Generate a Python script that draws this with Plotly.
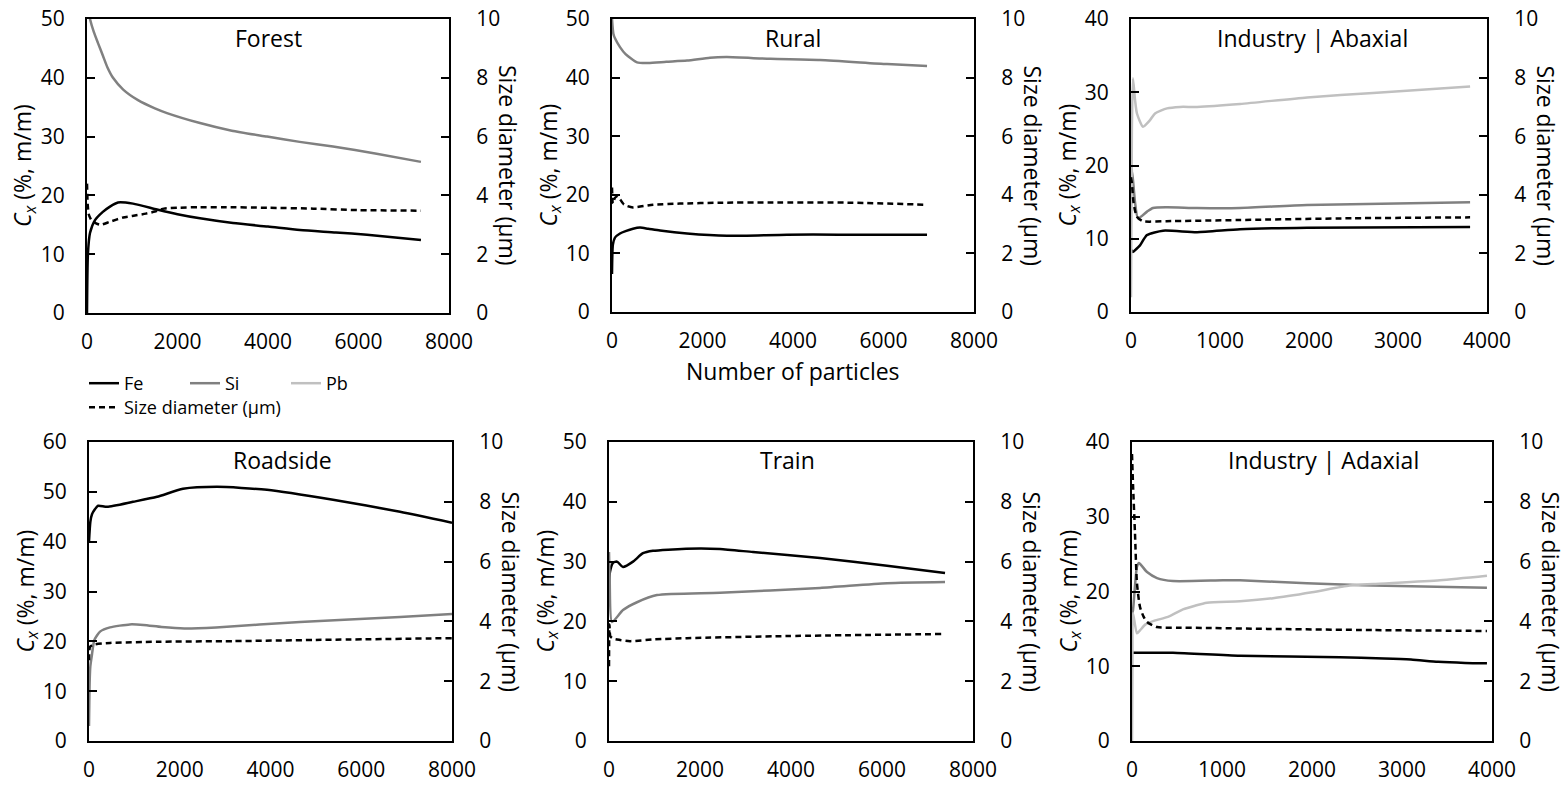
import plotly.graph_objects as go

W, H = 1567, 787

# ---------------- data ----------------
# Forest
forest_fe_n = [0, 20, 66, 177, 350, 508, 685, 1017, 1547, 2000, 2497, 3227, 4000, 4707, 5500, 6188, 7380]
forest_fe = [0, 10, 13.6, 15.8, 17.2, 18.1, 18.8, 18.6, 17.6, 16.8, 16.1, 15.3, 14.7, 14.1, 13.7, 13.3, 12.4]
forest_si_n = [20, 66, 150, 243, 350, 450, 575, 800, 1127, 1500, 1768, 2497, 3200, 3978, 4700, 5437, 6400, 7380]
forest_si = [52, 50, 47.8, 45.9, 43.8, 41.8, 40.0, 38.0, 36.2, 34.8, 34.0, 32.3, 31.0, 30.0, 29.1, 28.3, 27.1, 25.7]
forest_sd_n = [0, 15, 40, 100, 200, 300, 500, 800, 1000, 1300, 1500, 1700, 2000, 2500, 3000, 4000, 5000, 6000, 7380]
forest_sd = [4.4, 3.7, 3.35, 3.15, 3.05, 3.0, 3.1, 3.25, 3.3, 3.38, 3.45, 3.55, 3.58, 3.6, 3.6, 3.58, 3.55, 3.5, 3.48]

# Rural
rural_fe_n = [0, 20, 66, 177, 300, 464, 619, 800, 1061, 1658, 2541, 3868, 5000, 6962]
rural_fe = [6.5, 11.5, 12.7, 13.4, 13.8, 14.2, 14.4, 14.2, 13.9, 13.4, 13.0, 13.2, 13.2, 13.2]
rural_si_n = [0, 30, 66, 177, 300, 553, 800, 1200, 1658, 2166, 2541, 3500, 4597, 6078, 6962]
rural_si = [50, 47.5, 46.7, 45.2, 44.0, 42.6, 42.5, 42.7, 42.9, 43.4, 43.5, 43.2, 43.0, 42.3, 42.0]
rural_sd_n = [0, 20, 66, 130, 177, 260, 332, 464, 906, 1500, 2387, 3500, 5326, 6962]
rural_sd = [4.25, 3.7, 3.9, 3.95, 3.85, 3.68, 3.62, 3.57, 3.66, 3.7, 3.73, 3.74, 3.73, 3.66]

# Industry | Abaxial
abax_fe_n = [0, 22, 60, 101, 180, 360, 742, 1225, 1978, 3810]
abax_fe = [8.5, 8.2, 8.6, 9.1, 10.5, 11.1, 10.9, 11.3, 11.5, 11.6]
abax_si_n = [0, 11, 45, 79, 180, 247, 405, 742, 1225, 1978, 3810]
abax_si = [15, 19.4, 15, 12.8, 13.7, 14.2, 14.3, 14.2, 14.2, 14.6, 15.0]
abax_pb_n = [0, 10, 22, 45, 67, 135, 214, 270, 405, 551, 742, 1225, 1978, 2720, 3810]
abax_pb = [2, 25, 31.9, 29, 27.1, 25.3, 26.2, 27.1, 27.8, 28.0, 28.0, 28.4, 29.3, 29.9, 30.8]
abax_sd_n = [0, 10, 30, 67, 135, 400, 1225, 2500, 3810]
abax_sd = [4.6, 4.4, 3.7, 3.25, 3.1, 3.1, 3.14, 3.2, 3.23]

# Roadside
road_fe_n = [0, 30, 66, 130, 200, 400, 970, 1499, 2072, 2821, 3923, 5378, 6855, 8000]
road_fe = [40, 44, 45.5, 46.5, 47.2, 47.0, 48.0, 49.0, 50.6, 51.0, 50.4, 48.4, 46.0, 43.8]
road_si_n = [0, 15, 30, 60, 120, 250, 463, 900, 1200, 1600, 2100, 2800, 4650, 6855, 8000]
road_si = [3, 12, 15, 17, 20.3, 22.0, 22.8, 23.4, 23.3, 22.9, 22.6, 22.8, 23.9, 24.9, 25.5]
road_sd_n = [0, 22, 100, 463, 1500, 3174, 5000, 8000]
road_sd = [2.7, 3.15, 3.22, 3.28, 3.32, 3.34, 3.38, 3.44]

# Train
train_fe_n = [0, 22, 88, 176, 308, 528, 747, 967, 1300, 2000, 2440, 3165, 4638, 6110, 7385]
train_fe = [26, 28.3, 29.8, 30.0, 29.1, 30.0, 31.4, 31.8, 32.0, 32.2, 32.1, 31.6, 30.6, 29.3, 28.1]
train_si_n = [0, 15, 66, 308, 615, 1055, 2440, 4638, 6110, 7385]
train_si = [31.6, 27, 19.9, 21.9, 23.2, 24.4, 24.8, 25.6, 26.4, 26.6]
train_sd_n = [0, 10, 30, 100, 242, 462, 1000, 1714, 3912, 7385]
train_sd = [2.5, 3.9, 3.5, 3.42, 3.38, 3.34, 3.4, 3.44, 3.51, 3.58]

# Industry | Adaxial
adax_fe_n = [0, 11, 455, 1200, 2311, 2800, 3100, 3400, 3700, 3944]
adax_fe = [11.8, 11.8, 11.8, 11.4, 11.2, 11.05, 10.9, 10.6, 10.45, 10.4]
adax_si_n = [0, 11, 55, 78, 167, 278, 455, 1011, 1200, 1944, 2420, 2678, 3944]
adax_si = [17, 17.5, 23.3, 23.8, 22.6, 21.8, 21.4, 21.5, 21.5, 21.1, 20.9, 20.8, 20.5]
adax_pb_n = [0, 5, 11, 55, 89, 150, 250, 400, 566, 700, 833, 1200, 1567, 2000, 2420, 2678, 3422, 3944]
adax_pb = [0, 10, 17.1, 14.4, 14.8, 15.6, 16.1, 16.6, 17.6, 18.1, 18.5, 18.7, 19.1, 19.9, 20.8, 21.0, 21.5, 22.1]
adax_sd_n = [0, 11, 33, 55, 89, 130, 167, 278, 500, 833, 1500, 2678, 3944]
adax_sd = [9.6, 8.6, 6.96, 5.28, 4.48, 4.15, 3.98, 3.81, 3.79, 3.78, 3.75, 3.71, 3.68]

panel_titles = ["Forest", "Rural", "Industry | Abaxial", "Roadside", "Train", "Industry | Adaxial"]
x_max = [8000, 8000, 4000, 8000, 8000, 4000]
x_dtick = [2000, 2000, 1000, 2000, 2000, 1000]
cx_max = [50, 50, 40, 60, 50, 40]
cx_dtick = 10
sd_max = 10
sd_dtick = 2
series_names = ["Fe", "Si", "Pb", "Size diameter (µm)"]

panels = [
    dict(fe=(forest_fe_n, forest_fe), si=(forest_si_n, forest_si), pb=None, sd=(forest_sd_n, forest_sd)),
    dict(fe=(rural_fe_n, rural_fe), si=(rural_si_n, rural_si), pb=None, sd=(rural_sd_n, rural_sd)),
    dict(fe=(abax_fe_n, abax_fe), si=(abax_si_n, abax_si), pb=(abax_pb_n, abax_pb), sd=(abax_sd_n, abax_sd)),
    dict(fe=(road_fe_n, road_fe), si=(road_si_n, road_si), pb=None, sd=(road_sd_n, road_sd)),
    dict(fe=(train_fe_n, train_fe), si=(train_si_n, train_si), pb=None, sd=(train_sd_n, train_sd)),
    dict(fe=(adax_fe_n, adax_fe), si=(adax_si_n, adax_si), pb=(adax_pb_n, adax_pb), sd=(adax_sd_n, adax_sd)),
]

# ---------------- layout geometry (pixels) ----------------
boxes = [(87, 449, 19, 313), (612, 974, 19, 312), (1131, 1487, 19, 312),
         (89, 452, 442, 741), (609, 973, 442, 741), (1132, 1492, 442, 741)]
title_y = [38, 38, 38, 460, 460, 460]
title_dx = [0, 0, 3, 12, -4, 11]

FONT = "Open Sans"
TICKF = dict(family=FONT, size=21, color="black")
TITLEF = dict(family=FONT, size=23, color="black")
styles = {
    "fe": dict(color="black", width=2.5, dash="solid"),
    "si": dict(color="#808080", width=2.5, dash="solid"),
    "pb": dict(color="#c0c0c0", width=2.5, dash="solid"),
    "sd": dict(color="black", width=2.5, dash="6px,4px"),
}
names = dict(zip(["fe", "si", "pb", "sd"], series_names))

fig = go.Figure()
legend_done = set()
for i, p in enumerate(panels, start=1):
    for key in ["fe", "si", "pb", "sd"]:
        d = p[key]
        if d is None:
            continue
        show = key not in legend_done
        legend_done.add(key)
        yref = f"y{i + 6}" if key == "sd" else f"y{i}"
        fig.add_trace(go.Scatter(
            x=d[0], y=d[1], mode="lines", name=names[key],
            line=dict(shape="spline", smoothing=0.6, **styles[key]),
            xaxis=f"x{i}", yaxis=yref, showlegend=show,
            legend="legend2" if key == "sd" else "legend",
            legendrank={"fe": 1, "si": 2, "pb": 3, "sd": 4}[key],
            hoverinfo="skip"))

layout = dict(
    width=W, height=H, margin=dict(l=0, r=0, t=0, b=0, pad=0, autoexpand=False),
    paper_bgcolor="white", plot_bgcolor="white",
    font=dict(family=FONT, color="black"),
    legend=dict(orientation="h", x=84 / W, y=1 - 365 / H, xanchor="left", yanchor="top",
                entrywidth=56, entrywidthmode="pixels", font=dict(family=FONT, size=18),
                bgcolor="rgba(0,0,0,0)", itemwidth=30, traceorder="normal"),
    legend2=dict(orientation="h", x=84 / W, y=1 - 389 / H, xanchor="left", yanchor="top",
                 font=dict(family=FONT, size=18), bgcolor="rgba(0,0,0,0)", itemwidth=30),
)
annotations = []
for i, (x0, x1, y0, y1) in enumerate(boxes, start=1):
    sfx = "" if i == 1 else str(i)
    layout[f"xaxis{sfx}"] = dict(
        domain=[x0 / W, x1 / W], anchor=f"y{i}", range=[0, x_max[i - 1]], dtick=x_dtick[i - 1],
        showline=True, mirror=True, linecolor="black", linewidth=2, ticks="",
        showgrid=False, zeroline=False, tickfont=TICKF, ticklabelstandoff=9, automargin=False)
    layout[f"yaxis{sfx}"] = dict(
        domain=[1 - y1 / H, 1 - y0 / H], anchor=f"x{i}", range=[0, cx_max[i - 1]], dtick=cx_dtick,
        showline=True, linecolor="black", linewidth=2, ticks="inside", ticklen=8, tickwidth=2,
        tickcolor="black", showgrid=False, zeroline=False, tickfont=TICKF, ticklabelstandoff=16,
        automargin=False)
    layout[f"yaxis{i + 6}"] = dict(
        overlaying=f"y{i}", anchor=f"x{i}", side="right", range=[0, sd_max], dtick=sd_dtick,
        showline=True, linecolor="black", linewidth=2, ticks="inside", ticklen=8, tickwidth=2,
        tickcolor="black", showgrid=False, zeroline=False, tickfont=TICKF, ticklabelstandoff=21,
        automargin=False)
    cy = 1 - (y0 + y1) / 2 / H
    annotations.append(dict(text=panel_titles[i - 1], x=((x0 + x1) / 2 + title_dx[i - 1]) / W,
                            y=1 - title_y[i - 1] / H, xref="paper", yref="paper",
                            showarrow=False, xanchor="center", yanchor="middle", font=TITLEF))
    annotations.append(dict(text="<i>C</i><sub><i>x</i></sub> (%, m/m)", x=(x0 - 63) / W, y=cy,
                            xref="paper", yref="paper", showarrow=False, textangle=-90,
                            xanchor="center", yanchor="middle", font=TITLEF))
    annotations.append(dict(text="Size diameter (µm)", x=(x1 + 59) / W, y=cy,
                            xref="paper", yref="paper", showarrow=False, textangle=90,
                            xanchor="center", yanchor="middle", font=TITLEF))
annotations.append(dict(text="Number of particles", x=793 / W, y=1 - 371 / H, xref="paper", yref="paper",
                        showarrow=False, xanchor="center", yanchor="middle", font=TITLEF))
layout["annotations"] = annotations
fig.update_layout(**layout)
fig.write_html("out.html")
